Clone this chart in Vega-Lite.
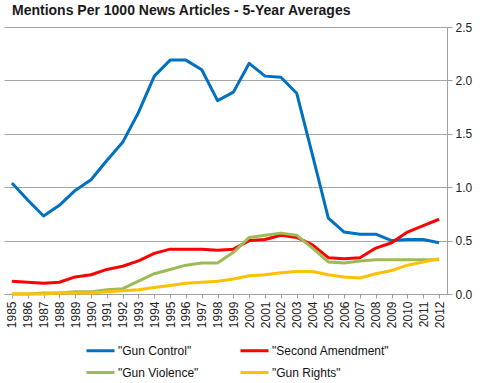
{
  "$schema": "https://vega.github.io/schema/vega-lite/v6.json",
  "width": 443,
  "height": 267,
  "autosize": {"type": "none"},
  "padding": {"left": 4, "top": 27, "right": 33, "bottom": 89},
  "background": "white",
  "title": {
    "text": "Mentions Per 1000 News Articles - 5-Year Averages",
    "anchor": "start",
    "frame": "group",
    "dx": 8,
    "offset": 3,
    "font": "Liberation Sans",
    "fontSize": 14,
    "fontWeight": "bold",
    "color": "#1a1a1a"
  },
  "config": {
    "view": {"stroke": null},
    "font": "Liberation Sans"
  },
  "data": {
    "values": [
      {"year": "1985", "s": "\"Gun Control\"", "v": 1.04},
      {"year": "1986", "s": "\"Gun Control\"", "v": 0.88},
      {"year": "1987", "s": "\"Gun Control\"", "v": 0.73},
      {"year": "1988", "s": "\"Gun Control\"", "v": 0.83},
      {"year": "1989", "s": "\"Gun Control\"", "v": 0.97},
      {"year": "1990", "s": "\"Gun Control\"", "v": 1.07},
      {"year": "1991", "s": "\"Gun Control\"", "v": 1.25},
      {"year": "1992", "s": "\"Gun Control\"", "v": 1.42},
      {"year": "1993", "s": "\"Gun Control\"", "v": 1.70},
      {"year": "1994", "s": "\"Gun Control\"", "v": 2.04},
      {"year": "1995", "s": "\"Gun Control\"", "v": 2.19},
      {"year": "1996", "s": "\"Gun Control\"", "v": 2.19},
      {"year": "1997", "s": "\"Gun Control\"", "v": 2.10},
      {"year": "1998", "s": "\"Gun Control\"", "v": 1.81},
      {"year": "1999", "s": "\"Gun Control\"", "v": 1.89},
      {"year": "2000", "s": "\"Gun Control\"", "v": 2.16},
      {"year": "2001", "s": "\"Gun Control\"", "v": 2.04},
      {"year": "2002", "s": "\"Gun Control\"", "v": 2.03},
      {"year": "2003", "s": "\"Gun Control\"", "v": 1.88},
      {"year": "2004", "s": "\"Gun Control\"", "v": 1.30},
      {"year": "2005", "s": "\"Gun Control\"", "v": 0.71},
      {"year": "2006", "s": "\"Gun Control\"", "v": 0.58},
      {"year": "2007", "s": "\"Gun Control\"", "v": 0.56},
      {"year": "2008", "s": "\"Gun Control\"", "v": 0.56},
      {"year": "2009", "s": "\"Gun Control\"", "v": 0.50},
      {"year": "2010", "s": "\"Gun Control\"", "v": 0.51},
      {"year": "2011", "s": "\"Gun Control\"", "v": 0.51},
      {"year": "2012", "s": "\"Gun Control\"", "v": 0.48},
      {"year": "1985", "s": "\"Second Amendment\"", "v": 0.12},
      {"year": "1986", "s": "\"Second Amendment\"", "v": 0.11},
      {"year": "1987", "s": "\"Second Amendment\"", "v": 0.10},
      {"year": "1988", "s": "\"Second Amendment\"", "v": 0.11},
      {"year": "1989", "s": "\"Second Amendment\"", "v": 0.16},
      {"year": "1990", "s": "\"Second Amendment\"", "v": 0.18},
      {"year": "1991", "s": "\"Second Amendment\"", "v": 0.23},
      {"year": "1992", "s": "\"Second Amendment\"", "v": 0.26},
      {"year": "1993", "s": "\"Second Amendment\"", "v": 0.31},
      {"year": "1994", "s": "\"Second Amendment\"", "v": 0.38},
      {"year": "1995", "s": "\"Second Amendment\"", "v": 0.42},
      {"year": "1996", "s": "\"Second Amendment\"", "v": 0.42},
      {"year": "1997", "s": "\"Second Amendment\"", "v": 0.42},
      {"year": "1998", "s": "\"Second Amendment\"", "v": 0.41},
      {"year": "1999", "s": "\"Second Amendment\"", "v": 0.42},
      {"year": "2000", "s": "\"Second Amendment\"", "v": 0.50},
      {"year": "2001", "s": "\"Second Amendment\"", "v": 0.51},
      {"year": "2002", "s": "\"Second Amendment\"", "v": 0.55},
      {"year": "2003", "s": "\"Second Amendment\"", "v": 0.53},
      {"year": "2004", "s": "\"Second Amendment\"", "v": 0.46},
      {"year": "2005", "s": "\"Second Amendment\"", "v": 0.34},
      {"year": "2006", "s": "\"Second Amendment\"", "v": 0.33},
      {"year": "2007", "s": "\"Second Amendment\"", "v": 0.34},
      {"year": "2008", "s": "\"Second Amendment\"", "v": 0.43},
      {"year": "2009", "s": "\"Second Amendment\"", "v": 0.48},
      {"year": "2010", "s": "\"Second Amendment\"", "v": 0.58},
      {"year": "2011", "s": "\"Second Amendment\"", "v": 0.64},
      {"year": "2012", "s": "\"Second Amendment\"", "v": 0.70},
      {"year": "1985", "s": "\"Gun Violence\"", "v": 0.00},
      {"year": "1986", "s": "\"Gun Violence\"", "v": 0.00},
      {"year": "1987", "s": "\"Gun Violence\"", "v": 0.01},
      {"year": "1988", "s": "\"Gun Violence\"", "v": 0.01},
      {"year": "1989", "s": "\"Gun Violence\"", "v": 0.02},
      {"year": "1990", "s": "\"Gun Violence\"", "v": 0.02},
      {"year": "1991", "s": "\"Gun Violence\"", "v": 0.04},
      {"year": "1992", "s": "\"Gun Violence\"", "v": 0.05},
      {"year": "1993", "s": "\"Gun Violence\"", "v": 0.12},
      {"year": "1994", "s": "\"Gun Violence\"", "v": 0.19},
      {"year": "1995", "s": "\"Gun Violence\"", "v": 0.23},
      {"year": "1996", "s": "\"Gun Violence\"", "v": 0.27},
      {"year": "1997", "s": "\"Gun Violence\"", "v": 0.29},
      {"year": "1998", "s": "\"Gun Violence\"", "v": 0.29},
      {"year": "1999", "s": "\"Gun Violence\"", "v": 0.39},
      {"year": "2000", "s": "\"Gun Violence\"", "v": 0.53},
      {"year": "2001", "s": "\"Gun Violence\"", "v": 0.55},
      {"year": "2002", "s": "\"Gun Violence\"", "v": 0.57},
      {"year": "2003", "s": "\"Gun Violence\"", "v": 0.55},
      {"year": "2004", "s": "\"Gun Violence\"", "v": 0.43},
      {"year": "2005", "s": "\"Gun Violence\"", "v": 0.30},
      {"year": "2006", "s": "\"Gun Violence\"", "v": 0.29},
      {"year": "2007", "s": "\"Gun Violence\"", "v": 0.31},
      {"year": "2008", "s": "\"Gun Violence\"", "v": 0.32},
      {"year": "2009", "s": "\"Gun Violence\"", "v": 0.32},
      {"year": "2010", "s": "\"Gun Violence\"", "v": 0.32},
      {"year": "2011", "s": "\"Gun Violence\"", "v": 0.32},
      {"year": "2012", "s": "\"Gun Violence\"", "v": 0.32},
      {"year": "1985", "s": "\"Gun Rights\"", "v": 0.00},
      {"year": "1986", "s": "\"Gun Rights\"", "v": 0.00},
      {"year": "1987", "s": "\"Gun Rights\"", "v": 0.00},
      {"year": "1988", "s": "\"Gun Rights\"", "v": 0.01},
      {"year": "1989", "s": "\"Gun Rights\"", "v": 0.01},
      {"year": "1990", "s": "\"Gun Rights\"", "v": 0.01},
      {"year": "1991", "s": "\"Gun Rights\"", "v": 0.02},
      {"year": "1992", "s": "\"Gun Rights\"", "v": 0.03},
      {"year": "1993", "s": "\"Gun Rights\"", "v": 0.04},
      {"year": "1994", "s": "\"Gun Rights\"", "v": 0.06},
      {"year": "1995", "s": "\"Gun Rights\"", "v": 0.08},
      {"year": "1996", "s": "\"Gun Rights\"", "v": 0.10},
      {"year": "1997", "s": "\"Gun Rights\"", "v": 0.11},
      {"year": "1998", "s": "\"Gun Rights\"", "v": 0.12},
      {"year": "1999", "s": "\"Gun Rights\"", "v": 0.14},
      {"year": "2000", "s": "\"Gun Rights\"", "v": 0.17},
      {"year": "2001", "s": "\"Gun Rights\"", "v": 0.18},
      {"year": "2002", "s": "\"Gun Rights\"", "v": 0.20},
      {"year": "2003", "s": "\"Gun Rights\"", "v": 0.21},
      {"year": "2004", "s": "\"Gun Rights\"", "v": 0.21},
      {"year": "2005", "s": "\"Gun Rights\"", "v": 0.18},
      {"year": "2006", "s": "\"Gun Rights\"", "v": 0.16},
      {"year": "2007", "s": "\"Gun Rights\"", "v": 0.15},
      {"year": "2008", "s": "\"Gun Rights\"", "v": 0.19},
      {"year": "2009", "s": "\"Gun Rights\"", "v": 0.22},
      {"year": "2010", "s": "\"Gun Rights\"", "v": 0.27},
      {"year": "2011", "s": "\"Gun Rights\"", "v": 0.30},
      {"year": "2012", "s": "\"Gun Rights\"", "v": 0.33}
    ]
  },
  "mark": {"type": "line", "strokeWidth": 3, "strokeJoin": "round"},
  "encoding": {
    "x": {
      "field": "year",
      "type": "ordinal",
      "scale": {"paddingInner": 0, "paddingOuter": 0},
      "axis": {
        "title": null,
        "labelAngle": -90,
        "labelFontSize": 12,
        "labelColor": "#222222",
        "labelPadding": 3,
        "domainColor": "#a0a0a0",
        "tickColor": "#a0a0a0",
        "tickSize": 4,
        "bandPosition": 0,
        "labelBound": false
      }
    },
    "y": {
      "field": "v",
      "type": "quantitative",
      "scale": {"domain": [0, 2.5]},
      "axis": {
        "orient": "right",
        "title": null,
        "values": [0, 0.5, 1, 1.5, 2, 2.5],
        "format": ".1f",
        "labelFontSize": 12,
        "labelColor": "#222222",
        "labelPadding": 3,
        "domainColor": "#a0a0a0",
        "tickColor": "#a0a0a0",
        "tickSize": 5,
        "gridColor": "#a6a6a6",
        "gridWidth": 1
      }
    },
    "color": {
      "field": "s",
      "type": "nominal",
      "sort": ["\"Gun Control\"", "\"Second Amendment\"", "\"Gun Violence\"", "\"Gun Rights\""],
      "scale": {
        "domain": ["\"Gun Control\"", "\"Second Amendment\"", "\"Gun Violence\"", "\"Gun Rights\""],
        "range": ["#0070c0", "#ff0000", "#9bbb59", "#ffc000"]
      },
      "legend": {
        "title": null,
        "orient": "none",
        "legendX": 81,
        "legendY": 308,
        "direction": "horizontal",
        "columns": 2,
        "columnPadding": 35,
        "rowPadding": 0,
        "symbolType": "stroke",
        "symbolSize": 784,
        "symbolStrokeWidth": 3,
        "labelFontSize": 12,
        "labelColor": "#111111",
        "labelOffset": 2,
        "labelLimit": 200
      }
    }
  }
}
